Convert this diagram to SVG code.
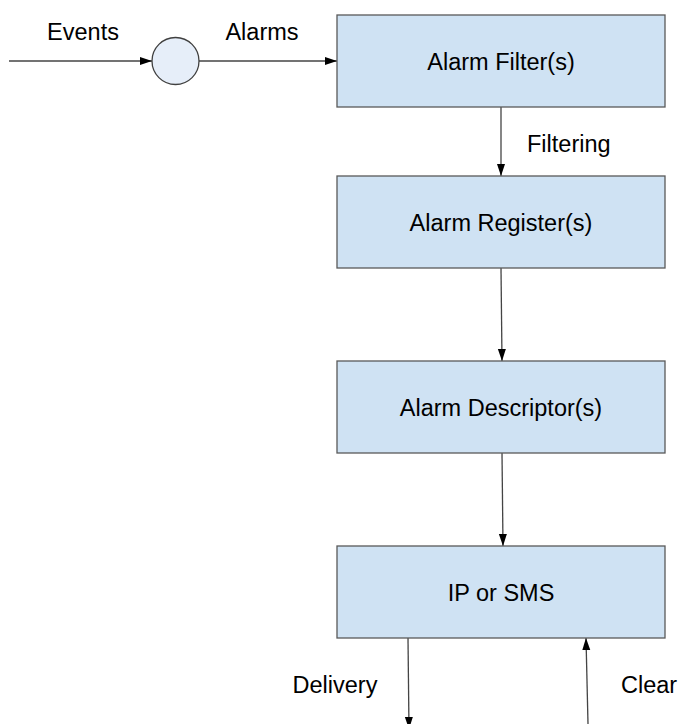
<svg xmlns="http://www.w3.org/2000/svg" width="679" height="724" viewBox="0 0 679 724">
<style>
.box{fill:#cfe2f3;stroke:#595959;stroke-width:1.3}
.circ{fill:#e6eef9;stroke:#404040;stroke-width:1.3}
.t{font-family:"Liberation Sans",Arial,sans-serif;font-size:23.5px;fill:#000}
.c{fill:none;stroke:#444;stroke-width:1.3;marker-end:url(#ah)}
</style>
<defs>
<marker id="ah" markerUnits="userSpaceOnUse" markerWidth="13" markerHeight="9" refX="12" refY="4" orient="auto">
<path d="M0,0 L12,4 L0,8 z" fill="#000"/>
</marker>
</defs>
<rect width="679" height="724" fill="#fff"/>
<g id="connectors">
<line class="c" x1="9" y1="61" x2="152" y2="61"/>
<line class="c" x1="199" y1="61" x2="337" y2="61"/>
<line class="c" x1="501" y1="107" x2="501" y2="176"/>
<line class="c" x1="501" y1="268" x2="502" y2="361"/>
<line class="c" x1="502" y1="453" x2="503" y2="546"/>
<line class="c" x1="408" y1="638" x2="409" y2="729"/>
<line class="c" x1="588" y1="724" x2="586" y2="638"/>
<text class="t" x="83" y="40" text-anchor="middle">Events</text>
<text class="t" x="262" y="40" text-anchor="middle">Alarms</text>
<text class="t" x="527" y="152">Filtering</text>
<text class="t" x="335" y="693" text-anchor="middle">Delivery</text>
<text class="t" x="621" y="693">Clear</text>
</g>
<g id="junction">
<circle class="circ" cx="175.5" cy="61" r="23.5"/>
</g>
<g id="alarm-filter">
<rect class="box" x="337" y="15" width="328" height="92"/>
<text class="t" x="501" y="69.5" text-anchor="middle">Alarm Filter(s)</text>
</g>
<g id="alarm-register">
<rect class="box" x="337" y="176" width="328" height="92"/>
<text class="t" x="501" y="230.5" text-anchor="middle">Alarm Register(s)</text>
</g>
<g id="alarm-descriptor">
<rect class="box" x="337" y="361" width="328" height="92"/>
<text class="t" x="501" y="415.5" text-anchor="middle">Alarm Descriptor(s)</text>
</g>
<g id="ip-sms">
<rect class="box" x="337" y="546" width="328" height="92"/>
<text class="t" x="501" y="600.5" text-anchor="middle">IP or SMS</text>
</g>
</svg>
